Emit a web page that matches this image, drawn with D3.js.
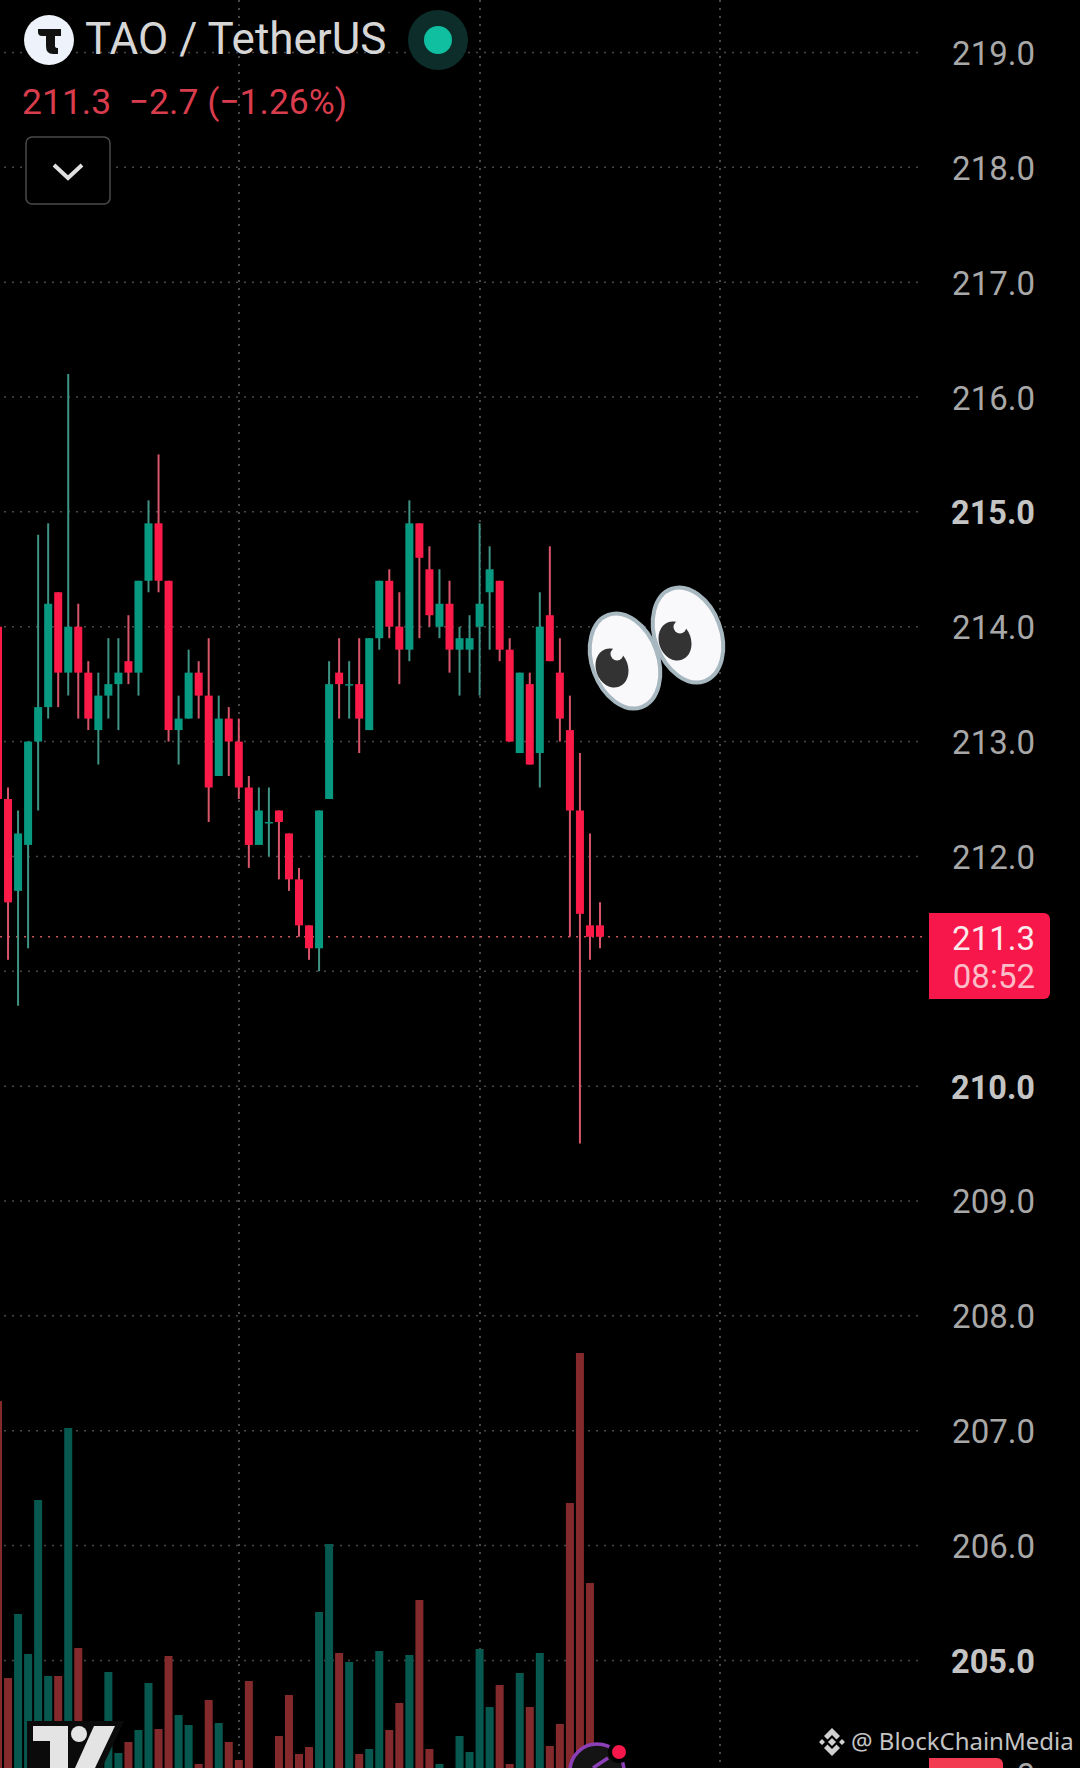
<!DOCTYPE html>
<html>
<head>
<meta charset="utf-8">
<script src="https://cdnjs.cloudflare.com/ajax/libs/d3/7.8.5/d3.min.js"></script>
<style>
html, body { margin: 0; padding: 0; background: #000; }
svg { display: block; font-family: Roboto, sans-serif; }
</style>
</head>
<body>
<svg id="chart" width="1080" height="1768"></svg>
<script>
// candles, left to right
var opens  = [214.0,212.5,211.7,212.1,213.0,213.3,214.3,213.6,214.0,213.6,213.1,213.4,213.5,213.7,213.6,214.4,214.9,214.4,213.1,213.2,213.6,213.4,212.7,213.2,213.0,212.6,212.1,212.3,212.4,212.2,211.8,211.4,211.2,212.5,213.6,213.5,213.5,213.1,213.9,214.4,214.0,213.8,214.9,214.5,214.0,214.2,213.8,213.8,214.0,214.3,214.4,213.8,212.9,213.5,212.9,214.1,213.6,213.1,212.4,211.4,211.4];
var highs  = [214.0,212.6,212.4,213.0,214.8,214.9,214.3,216.2,214.2,213.7,213.6,213.9,213.9,214.1,214.4,215.1,215.5,214.4,213.4,213.8,213.7,213.9,213.4,213.3,213.2,212.7,212.6,212.6,212.4,212.2,211.9,211.4,212.4,213.7,213.9,213.7,213.9,213.9,214.4,214.5,214.3,215.1,214.9,214.7,214.5,214.4,214.0,214.1,214.9,214.7,214.4,213.9,213.6,213.6,214.3,214.7,213.9,213.4,212.9,212.2,211.6];
var lows   = [212.5,211.1,210.7,211.2,212.4,213.2,213.3,213.4,213.2,213.1,212.8,213.2,213.1,213.5,213.4,214.3,214.3,213.0,212.8,213.2,213.2,212.3,212.7,212.7,212.5,211.9,212.1,212.0,211.8,211.7,211.3,211.1,211.0,212.5,213.2,213.2,212.9,213.1,213.8,213.9,213.5,213.7,213.9,214.0,213.9,213.6,213.4,213.6,213.4,213.8,213.7,213.0,212.9,212.8,212.6,213.7,213.0,211.3,209.5,211.1,211.2];
var closes = [212.5,211.6,212.2,213.0,213.3,214.2,213.6,214.0,213.6,213.2,213.4,213.5,213.6,213.6,214.4,214.9,214.4,213.1,213.2,213.6,213.4,212.6,213.2,213.0,212.6,212.1,212.4,212.3,212.3,211.8,211.4,211.2,212.4,213.5,213.5,213.5,213.2,213.9,214.4,214.0,213.8,214.9,214.6,214.1,214.2,213.8,213.9,213.9,214.2,214.5,213.8,213.0,213.6,212.8,214.0,213.7,213.2,212.4,211.5,211.3,211.3];
var volumes = [367,90,154,114,268,92,92,340,120,25,31,96,15,26,38,85,39,112,53,43,4,68,45,26,8,87,0,0,32,73,14,21,156,224,115,106,14,19,117,38,65,113,168,19,4,0,32,16,119,61,83,4,95,61,115,22,44,265,415,185,15];

var priceTicks = [219,218,217,216,215,214,213,212,210,209,208,207,206,205];
var boldTicks = [215,210,205];
var gridPrices = [219,218,217,216,215,214,213,212,211,210,209,208,207,206,205];
var gridTimes = [239,480,720];

var lastPrice = 211.3;
var countdown = "08:52";
var title = "TAO / TetherUS";
var change = "211.3  \u22122.7 (\u22121.26%)";
var watermark = "@ BlockChainMedia";

var svg = d3.select("#chart");
var w = 1080, h = 1768;

var y = d3.scaleLinear().domain([216, 205]).range([397, 1660.4]);
var x = d3.scaleLinear().domain([0, 60]).range([-2, 600]);
var yVol = d3.scaleLinear().domain([0, 415]).range([h, h - 415]);

var upColor = "#089981", downColor = "#fb1a48";
var upWick = "#3f9485", downWick = "#d9566a";
var upVol = "#07584f", downVol = "#842a2d";

svg.append("rect").attr("width", w).attr("height", h).attr("fill", "#000");

// grid
var grid = svg.append("g");
grid.selectAll("line.h").data(gridPrices).enter().append("line")
	.attr("class", "h")
	.attr("x1", 4).attr("x2", 924)
	.attr("y1", function(d){ return y(d); }).attr("y2", function(d){ return y(d); })
	.attr("stroke", "#484848").attr("stroke-width", 1.5).attr("stroke-dasharray", "2 6");
grid.selectAll("line.v").data(gridTimes).enter().append("line")
	.attr("class", "v")
	.attr("x1", function(d){ return d; }).attr("x2", function(d){ return d; })
	.attr("y1", 0).attr("y2", h)
	.attr("stroke", "#484848").attr("stroke-width", 2).attr("stroke-dasharray", "2 6");

// volume sits behind the candles
svg.append("g").selectAll("rect").data(volumes).enter().append("rect")
	.attr("x", function(d, i){ return x(i) - 4; })
	.attr("y", function(d){ return yVol(d); })
	.attr("width", 8)
	.attr("height", function(d){ return h - yVol(d); })
	.attr("fill", function(d, i){ return closes[i] >= opens[i] ? upVol : downVol; });

// last price line
svg.append("line")
	.attr("x1", 0).attr("x2", 924)
	.attr("y1", y(lastPrice)).attr("y2", y(lastPrice))
	.attr("stroke", "#c4565c").attr("stroke-width", 1.5).attr("stroke-dasharray", "2 6");

// candles
var candles = svg.append("g").selectAll("g").data(opens).enter().append("g");
candles.append("line")
	.attr("x1", function(d, i){ return x(i); })
	.attr("x2", function(d, i){ return x(i); })
	.attr("y1", function(d, i){ return y(highs[i]); })
	.attr("y2", function(d, i){ return y(lows[i]); })
	.attr("stroke-width", 2)
	.attr("stroke", function(d, i){ return closes[i] >= opens[i] ? upWick : downWick; });
candles.append("rect")
	.attr("x", function(d, i){ return x(i) - 4; })
	.attr("width", 8)
	.attr("y", function(d, i){ return y(Math.max(opens[i], closes[i])); })
	.attr("height", function(d, i){ return Math.max(1.5, Math.abs(y(opens[i]) - y(closes[i]))); })
	.attr("fill", function(d, i){ return closes[i] >= opens[i] ? upColor : downColor; });

// price axis
svg.append("g").selectAll("text").data(priceTicks).enter().append("text")
	.attr("x", 1035)
	.attr("y", function(d){ return y(d) + 12.5; })
	.attr("text-anchor", "end")
	.attr("font-size", function(d){ return boldTicks.indexOf(d) >= 0 ? 32.5 : 33; })
	.attr("font-weight", function(d){ return boldTicks.indexOf(d) >= 0 ? 700 : 400; })
	.attr("fill", function(d){ return boldTicks.indexOf(d) >= 0 ? "#c4c4c4" : "#a8a8a8"; })
	.text(function(d){ return d.toFixed(1); });

// price tag
svg.append("path")
	.attr("d", "M929,913H1044a6,6 0 0 1 6,6V993a6,6 0 0 1 -6,6H929Z")
	.attr("fill", "#f8174a");
svg.append("text").attr("x", 1035).attr("y", 949.5).attr("text-anchor", "end")
	.attr("font-size", 33).attr("fill", "#fbe9ec").text(lastPrice.toFixed(1));
svg.append("text").attr("x", 1035).attr("y", 988).attr("text-anchor", "end")
	.attr("font-size", 33).attr("fill", "#fbbcc8").text(countdown);

// cut off tag at the very bottom
svg.append("path")
	.attr("d", "M929,1758H997a6,6 0 0 1 6,6V1768H929Z")
	.attr("fill", "#f23a50");
svg.append("text").attr("x", 1035).attr("y", 1787).attr("text-anchor", "end")
	.attr("font-size", 33).attr("fill", "#a8a8a8").text("0");

// header
svg.append("circle").attr("cx", 49).attr("cy", 40).attr("r", 25).attr("fill", "#eef2fb");
svg.append("path")
	.attr("d", "M38,29H61V36H55V46Q55,48 58,48V54H53Q46,54 46,46V36H42Q38,36 38,32Z")
	.attr("fill", "#111");
svg.append("text").attr("x", 85).attr("y", 54).attr("font-size", 44)
	.attr("fill", "#d6d6d6").text(title);
svg.append("circle").attr("cx", 438).attr("cy", 40).attr("r", 30).attr("fill", "#0d2d2b");
svg.append("circle").attr("cx", 438).attr("cy", 40).attr("r", 14).attr("fill", "#0fbf9f");
svg.append("text").attr("x", 22).attr("y", 114).attr("font-size", 35.5)
	.attr("xml:space", "preserve").style("white-space", "pre")
	.attr("fill", "#d93c4c").text(change);

// collapse button
svg.append("rect").attr("x", 26).attr("y", 137).attr("width", 84).attr("height", 67).attr("rx", 6)
	.attr("fill", "#000").attr("stroke", "#4a4a4a").attr("stroke-width", 1.5);
svg.append("path").attr("d", "M54,165L68,178L82,165").attr("fill", "none")
	.attr("stroke", "#e0e0e0").attr("stroke-width", 4);

// eyes emoji
var eyes = svg.append("g");
[[625, 661, 612, 668], [688, 635, 675, 641]].forEach(function(e){
	eyes.append("ellipse").attr("cx", e[0]).attr("cy", e[1]).attr("rx", 33).attr("ry", 49)
		.attr("transform", "rotate(-20 " + e[0] + " " + e[1] + ")")
		.attr("fill", "#f9f9fb").attr("stroke", "#a8b8c0").attr("stroke-width", 4);
	eyes.append("ellipse").attr("cx", e[2]).attr("cy", e[3]).attr("rx", 16).attr("ry", 20)
		.attr("transform", "rotate(-20 " + e[2] + " " + e[3] + ")")
		.attr("fill", "#333");
	eyes.append("circle").attr("cx", e[2] + 5).attr("cy", e[3] - 14).attr("r", 6.5).attr("fill", "#f9f9fb");
});

// tradingview mark
var tv = svg.append("g");
tv.append("path").attr("d", "M27,1721H124L102,1768H27Z").attr("fill", "#0b0b0b");
tv.append("path").attr("d", "M33,1726H68V1768H50V1741H33Z").attr("fill", "#e4e4e4");
tv.append("circle").attr("cx", 79).attr("cy", 1734).attr("r", 8).attr("fill", "#e4e4e4");
tv.append("path").attr("d", "M94,1726H115L95,1768H75Z").attr("fill", "#e4e4e4");

// speed icon
svg.append("circle").attr("cx", 597).attr("cy", 1771).attr("r", 27)
	.attr("fill", "#141414").attr("stroke", "#8d3fb8").attr("stroke-width", 3.5);
svg.append("path").attr("d", "M593,1768L608,1758").attr("stroke", "#8d3fb8").attr("stroke-width", 3.5);
svg.append("circle").attr("cx", 619).attr("cy", 1752).attr("r", 11).attr("fill", "#000");
svg.append("circle").attr("cx", 619).attr("cy", 1752).attr("r", 7).attr("fill", "#f8174a");

// watermark
var bn = svg.append("g").attr("fill", "#d0d0d0");
bn.append("path").attr("d", "M832,1728l8,8l-3.5,3.5l-4.5,-4.5l-4.5,4.5l-3.5,-3.5Z M832,1756l-8,-8l3.5,-3.5l4.5,4.5l4.5,-4.5l3.5,3.5Z M819,1742l3,-3l3,3l-3,3Z M839,1742l3,-3l3,3l-3,3Z M832,1738l4,4l-4,4l-4,-4Z");
svg.append("text").attr("x", 851).attr("y", 1750).attr("font-family", "'Noto Sans'")
	.attr("font-size", 24).attr("fill", "#c4c4c4").text(watermark);
</script>
</body>
</html>
